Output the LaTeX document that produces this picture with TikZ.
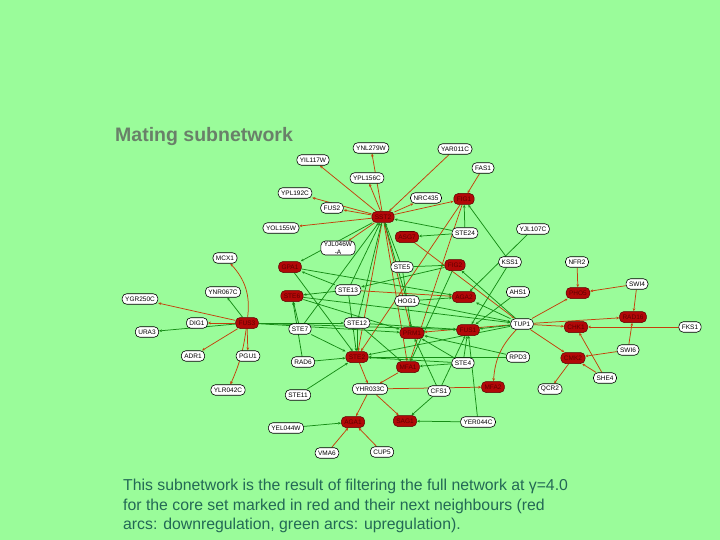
\documentclass[tikz,border=0pt]{standalone}
\usepackage{fontspec}
\setmainfont{Liberation Sans}
\usetikzlibrary{arrows.meta}
\definecolor{bgc}{RGB}{154,252,154}
\definecolor{rcol}{RGB}{196,64,12}
\definecolor{gcol}{RGB}{22,140,22}
\definecolor{rfill}{RGB}{178,8,8}
\definecolor{rdraw}{RGB}{90,0,0}
\definecolor{rtext}{RGB}{95,0,0}
\definecolor{titlec}{RGB}{105,128,105}
\definecolor{capc}{RGB}{35,105,85}
\pgfdeclarelayer{bgfill}
\pgfdeclarelayer{edges}
\pgfsetlayers{bgfill,edges,main}
\begin{document}
\begin{tikzpicture}[x=1pt,y=-1pt,
  wnode/.style={draw=black, fill=white, rounded corners=4.5pt, line width=0.6pt,
    font=\fontsize{6.5}{7}\selectfont, inner xsep=3pt, inner ysep=1pt, minimum height=10.5pt},
  rnode/.style={draw=rdraw, fill=rfill, rounded corners=4.5pt, line width=0.5pt, text=rtext,
    font=\fontsize{6.5}{7}\selectfont, inner xsep=3pt, inner ysep=1pt, minimum height=11pt},
  gedge/.style={draw=gcol, line width=0.75pt, -{Stealth[length=3pt,width=2.6pt]}},
  redge/.style={draw=rcol, line width=0.75pt, -{Stealth[length=3pt,width=2.6pt]}}]
\begin{pgfonlayer}{bgfill}
\fill[bgc] (0,0) rectangle (720,540);
\end{pgfonlayer}
\useasboundingbox (0,0) rectangle (720,540);

% title and caption
\node[anchor=base west, text=titlec, font=\fontsize{19.5}{22}\selectfont\bfseries, inner sep=0] (title) at (115,142) {Mating subnetwork};
\node[anchor=base west, text=capc, font=\fontsize{15.8}{18}\selectfont, inner sep=0] (cap1) at (123,490) {This subnetwork is the result of filtering the full network at γ=4.0};
\node[anchor=base west, text=capc, font=\fontsize{15.8}{18}\selectfont, inner sep=0] (cap2) at (123,510) {for the core set marked in red and their next neighbours (red};
\node[anchor=base west, text=capc, font=\fontsize{15.8}{18}\selectfont, inner sep=0] (cap3) at (123,529) {arcs: downregulation, green arcs: upregulation).};

% white nodes
\node[wnode] (ynl) at (371,148) {YNL279W};
\node[wnode] (yar) at (455,149) {YAR011C};
\node[wnode] (yil) at (313,160) {YIL117W};
\node[wnode] (ypla) at (367,178) {YPL156C};
\node[wnode] (fas) at (483,168) {FAS1};
\node[wnode] (yplb) at (295,193) {YPL192C};
\node[wnode] (nrc) at (426,198) {NRC435};
\node[wnode] (fustwo) at (332,208) {FUS2};
\node[wnode] (yol) at (281,228) {YOL155W};
\node[wnode] (stetf) at (465,233) {STE24};
\node[wnode] (yjla) at (533,229) {YJL107C};
\node[wnode] (mcx) at (225,258) {MCX1};
\node[wnode, align=center, font=\fontsize{6.5}{7.5}\selectfont] (yjlb) at (338,248) {YJL046W\\-A};
\node[wnode] (stefive) at (402,267) {STE5};
\node[wnode] (kss) at (510,262) {KSS1};
\node[wnode] (nfr) at (577,262) {NFR2};
\node[wnode] (ynr) at (223,292) {YNR067C};
\node[wnode] (stethirteen) at (348,290) {STE13};
\node[wnode] (hog) at (407,301) {HOG1};
\node[wnode] (ahs) at (518,292) {AHS1};
\node[wnode] (swifour) at (637,284) {SWI4};
\node[wnode] (ygr) at (140,299) {YGR250C};
\node[wnode] (dig) at (197,323) {DIG1};
\node[wnode] (ura) at (147,332) {URA3};
\node[wnode] (steseven) at (300,329) {STE7};
\node[wnode] (stetwelve) at (357,323) {STE12};
\node[wnode] (tup) at (522,324) {TUP1};
\node[wnode] (fks) at (690,327) {FKS1};
\node[wnode] (adr) at (193,356) {ADR1};
\node[wnode] (pgu) at (248,356) {PGU1};
\node[wnode] (radsix) at (303,362) {RAD6};
\node[wnode] (stefour) at (463,363) {STE4};
\node[wnode] (rpd) at (518,357) {RPD3};
\node[wnode] (swisix) at (628,350) {SWI6};
\node[wnode] (she) at (605,378) {SHE4};
\node[wnode] (ylr) at (228,390) {YLR042C};
\node[wnode] (yhr) at (370,389) {YHR033C};
\node[wnode] (cfs) at (439,391) {CFS1};
\node[wnode] (qcr) at (550,389) {QCR2};
\node[wnode] (steeleven) at (298,395) {STE11};
\node[wnode] (yer) at (478,422) {YER044C};
\node[wnode] (yel) at (286,428) {YEL044W};
\node[wnode] (vma) at (327,453) {VMA6};
\node[wnode] (cup) at (382,452) {CUP5};

% red (core) nodes
\node[rnode] (sst) at (383,217) {SST2};
\node[rnode] (asg) at (407,237) {ASG7};
\node[rnode] (figone) at (464,199) {FIG1};
\node[rnode] (figtwo) at (455,265) {FIG2};
\node[rnode] (gpa) at (290,267) {GPA1};
\node[rnode] (stesix) at (292,296) {STE6};
\node[rnode] (fusthree) at (247,323) {FUS3};
\node[rnode] (agatwo) at (464,297) {AGA2};
\node[rnode] (prm) at (412,333) {PRM1};
\node[rnode] (fusone) at (468,330) {FUS1};
\node[rnode] (stetwo) at (357,357) {STE2};
\node[rnode] (mfaone) at (408,367) {MFA1};
\node[rnode] (pho) at (578,293) {PHO5};
\node[rnode] (rad) at (633,317) {RAD16};
\node[rnode] (chk) at (576,327) {CHK1};
\node[rnode] (cmk) at (573,358) {CMK2};
\node[rnode] (mfatwo) at (493,387) {MFA2};
\node[rnode] (sag) at (405,421) {SAG1};
\node[rnode] (agaone) at (353,422) {AGA1};

\begin{pgfonlayer}{edges}
% red arcs
\draw[redge] (sst) -- (ynl);
\draw[redge] (sst) -- (yil);
\draw[redge] (sst) -- (ypla);
\draw[redge] (sst) -- (yplb);
\draw[redge] (sst) -- (fustwo);
\draw[redge] (sst) -- (yol);
\draw[redge] (sst) -- (yjlb);
\draw[redge] (sst) -- (nrc);
\draw[redge] (sst) -- (figone);
\draw[redge] (yar) -- (sst);
\draw[redge] (fas) -- (figone);
\draw[redge] (sst) -- (stetwo);
\draw[redge] (sst) -- (mfaone);
\draw[redge] (sst) -- (prm);
\draw[redge] (figone) -- (stetwo);
\draw[redge] (figone) -- (mfaone);
\draw[redge] (fusthree) to[bend right=25] (mcx);
\draw[redge] (fusthree) -- (ygr);
\draw[redge] (fusthree) -- (dig);
\draw[redge] (fusthree) -- (adr);
\draw[redge] (fusthree) -- (pgu);
\draw[redge] (fusthree) to[bend left=8] (ylr);
\draw[redge] (stethirteen) -- (agatwo);
\draw[redge] (asg) -- (tup);
\draw[redge] (tup) -- (prm);
\draw[redge] (tup) -- (pho);
\draw[redge] (tup) -- (rad);
\draw[redge] (tup) -- (chk);
\draw[redge] (tup) -- (cmk);
\draw[redge] (tup) to[bend right=20] (mfatwo);
\draw[redge] (nfr) -- (pho);
\draw[redge] (swifour) -- (pho);
\draw[redge] (swifour) -- (rad);
\draw[redge] (fks) -- (chk);
\draw[redge] (swisix) -- (rad);
\draw[redge] (swisix) -- (cmk);
\draw[redge] (she) -- (chk);
\draw[redge] (she) -- (cmk);
\draw[redge] (cmk) -- (qcr);
\draw[redge] (yhr) -- (agaone);
\draw[redge] (yhr) -- (mfatwo);
\draw[redge] (yhr) -- (sag);
\draw[redge] (vma) -- (agaone);
\draw[redge] (cup) -- (agaone);
\draw[redge] (stetwo) -- (yhr);
\draw[redge] (mfaone) -- (yhr);
% green arcs
\draw[gedge] (stetf) -- (figone);
\draw[gedge] (stetf) -- (sst);
\draw[gedge] (stetf) -- (asg);
\draw[gedge] (kss) -- (figone);
\draw[gedge] (kss) -- (fusone);
\draw[gedge] (yjla) -- (agatwo);
\draw[gedge] (fusthree) -- (ynr);
\draw[gedge] (fusthree) -- (ura);
\draw[gedge] (stefive) -- (sst);
\draw[gedge] (stetwelve) -- (sst);
\draw[gedge] (stethirteen) -- (sst);
\draw[gedge] (hog) -- (sst);
\draw[gedge] (steseven) -- (sst);
\draw[gedge] (sst) -- (gpa);
\draw[gedge] (stethirteen) -- (stesix);
\draw[gedge] (stethirteen) -- (gpa);
\draw[gedge] (steseven) -- (stesix);
\draw[gedge] (steseven) -- (stetwo);
\draw[gedge] (radsix) -- (stetwo);
\draw[gedge] (radsix) -- (stesix);
\draw[gedge] (stetwelve) -- (stetwo);
\draw[gedge] (stethirteen) -- (stetwo);
\draw[gedge] (gpa) -- (stetwo);
\draw[gedge] (fusthree) -- (prm);
\draw[gedge] (fusthree) -- (fusone);
\draw[gedge] (fusthree) -- (stetwelve);
\draw[gedge] (stesix) -- (prm);
\draw[gedge] (stesix) -- (tup);
\draw[gedge] (gpa) -- (agatwo);
\draw[gedge] (stefive) -- (prm);
\draw[gedge] (stefive) -- (figtwo);
\draw[gedge] (hog) -- (agatwo);
\draw[gedge] (tup) -- (fusone);
\draw[gedge] (tup) -- (agatwo);
\draw[gedge] (tup) -- (figtwo);
\draw[gedge] (tup) -- (stetwo);
\draw[gedge] (hog) -- (tup);
\draw[gedge] (ahs) -- (fusone);
\draw[gedge] (rpd) -- (prm);
\draw[gedge] (rpd) -- (stetwo);
\draw[gedge] (stefour) -- (prm);
\draw[gedge] (stefour) -- (stetwo);
\draw[gedge] (stefour) -- (fusone);
\draw[gedge] (cfs) -- (sag);
\draw[gedge] (cfs) -- (fusone);
\draw[gedge] (cfs) -- (prm);
\draw[gedge] (yer) -- (sag);
\draw[gedge] (yer) -- (fusone);
\draw[gedge] (yel) -- (agaone);
\draw[gedge] (steeleven) -- (stetwo);
\draw[gedge] (figtwo) -- (mfaone);
\draw[gedge] (figtwo) -- (stethirteen);
\draw[gedge] (stetwelve) -- (fusone);
\draw[gedge] (stetwelve) -- (mfaone);
\draw[gedge] (stefour) -- (mfaone);
\end{pgfonlayer}
\end{tikzpicture}
\end{document}
